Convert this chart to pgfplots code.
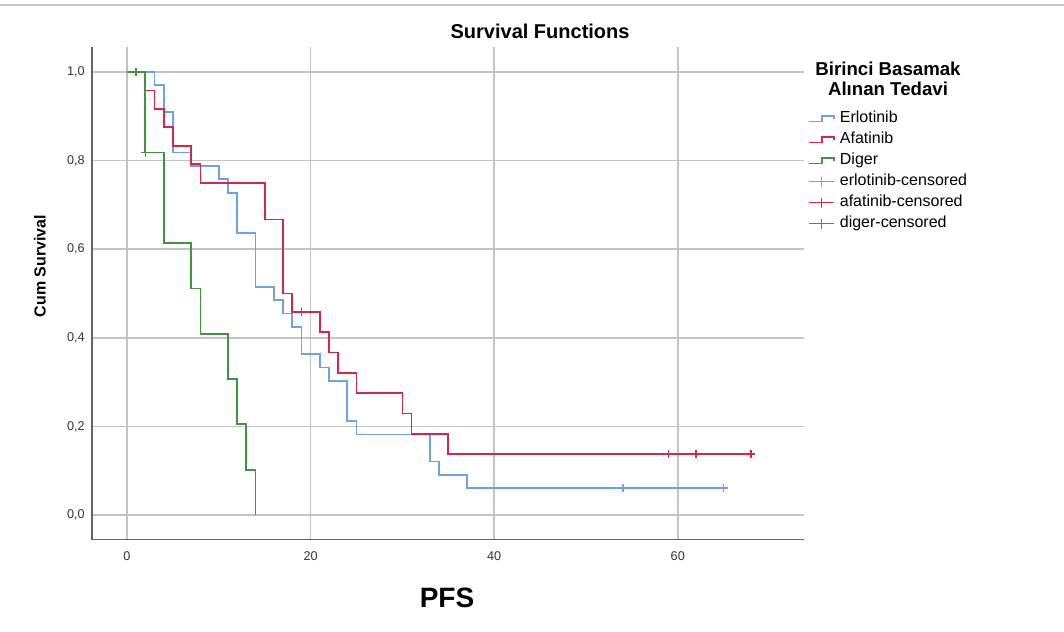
\documentclass[border=0pt]{standalone}
\usepackage{fontspec}
\setmainfont{Liberation Sans}
\usepackage{pgfplots}
\pgfplotsset{compat=1.18}

\definecolor{erlo}{RGB}{106,163,232}
\definecolor{afa}{RGB}{218,36,76}
\definecolor{dig}{RGB}{62,150,62}
\definecolor{gridc}{RGB}{196,196,196}
\definecolor{axc}{RGB}{100,100,100}

% legend icons: step line for the curves, line with a cross for censored
\newcommand{\stepimg}[1]{\addlegendimage{legend image code/.code={%
  \draw[#1,line width=1.2pt] (0pt,-2pt)--(10pt,-2pt)--(10pt,2pt)--(18.75pt,2pt)--(18.75pt,-0.5pt);}}}
\newcommand{\censimg}[1]{\addlegendimage{legend image code/.code={%
  \draw[#1,line width=1.2pt] (0pt,0pt)--(18.75pt,0pt) (9.4pt,-3.75pt)--(9.4pt,3.75pt);}}}

\begin{document}
\begin{tikzpicture}
\begin{axis}[
    x=6.885pt, y=332.25pt,
    xmin=-3.8, xmax=73.8,
    ymin=-0.056, ymax=1.056,
    axis x line=bottom, axis y line=left,
    axis line style={axc, line width=0.9pt, -},
    xtick={0,20,40,60},
    ytick={0,0.2,0.4,0.6,0.8,1},
    grid=major,
    major grid style={gridc, line width=1.1pt},
    major tick length=0pt,
    tick label style={font=\fontsize{9.5}{11}\selectfont, text=black!80},
    /pgf/number format/assume math mode=true,
    xticklabel style={yshift=-5pt},
    yticklabel style={xshift=-2pt, /pgf/number format/.cd, fixed, fixed zerofill, precision=1, use comma},
    clip=false,
    legend cell align=left,
    legend style={
        draw=none, fill=none,
        at={(axis cs:74.18,0.9127)}, anchor=north west,
        inner sep=0pt, outer sep=0pt,
        row sep=3.75pt,
        font=\fontsize{12}{14}\selectfont,
        nodes={inner sep=0pt, text height=9pt, text depth=3pt},
        /tikz/every odd column/.append style={column sep=4pt},
    },
]

% Erlotinib
\addplot[const plot, erlo, line width=1.3pt, forget plot] coordinates {
    (0,1) (3,0.970) (4,0.909) (5,0.818) (7,0.788) (10,0.758) (11,0.727)
    (12,0.636) (14,0.515) (16,0.485) (17,0.455) (18,0.424) (19,0.364)
    (21,0.333) (22,0.303) (24,0.212) (25,0.182) (33,0.121) (34,0.091)
    (37,0.061) (65,0.061)
};
% Afatinib
\addplot[const plot, afa, line width=1.3pt, forget plot] coordinates {
    (0,1) (2,0.958) (3,0.917) (4,0.875) (5,0.833) (7,0.792) (8,0.750)
    (15,0.667) (17,0.500) (18,0.458) (21,0.413) (22,0.367) (23,0.321)
    (25,0.275) (30,0.229) (31,0.183) (35,0.138) (68,0.138)
};
% Diger
\addplot[const plot, dig, line width=1.3pt, forget plot] coordinates {
    (0,1) (2,0.818) (4,0.614) (7,0.511) (8,0.409) (11,0.307)
    (12,0.205) (13,0.102) (14,0)
};

% censored
\addplot[only marks, mark=+, mark size=3pt, erlo, mark options={line width=1.2pt}, forget plot]
    coordinates {(54,0.061) (65,0.061)};
\addplot[only marks, mark=+, mark size=3pt, afa, mark options={line width=1.2pt}, forget plot]
    coordinates {(19,0.458) (59,0.138) (62,0.138) (68,0.138)};
\addplot[only marks, mark=+, mark size=3pt, dig, mark options={line width=1.2pt}, forget plot]
    coordinates {(1,1) (2,0.818)};

\stepimg{erlo}\addlegendentry{Erlotinib}
\stepimg{afa}\addlegendentry{Afatinib}
\stepimg{dig}\addlegendentry{Diger}
\censimg{erlo}\addlegendentry{erlotinib-censored}
\censimg{afa}\addlegendentry{afatinib-censored}
\censimg{dig}\addlegendentry{diger-censored}

% titles and labels
\node[font=\bfseries\fontsize{15}{17}\selectfont] at (axis cs:45.0,1.0926) {Survival Functions};
\node[font=\bfseries\fontsize{12}{14}\selectfont, rotate=90] at (axis cs:-9.48,0.562) {Cum Survival};
\node[font=\bfseries\fontsize{21}{24}\selectfont] at (axis cs:34.86,-0.187) {PFS};
\node[font=\bfseries\fontsize{14}{16}\selectfont, anchor=base] at (axis cs:82.9,0.9932) {Birinci Basamak};
\node[font=\bfseries\fontsize{14}{16}\selectfont, anchor=base] at (axis cs:82.9,0.948) {Alınan Tedavi};

\draw[gray!45, line width=1pt] (axis cs:-13.83,1.151) -- (axis cs:102.07,1.151);
\coordinate (tl) at (axis cs:-13.83,1.1625);
\coordinate (br) at (axis cs:102.07,-0.2619);
\end{axis}
\pgfresetboundingbox
\useasboundingbox (tl) rectangle (br);
\end{tikzpicture}
\end{document}
